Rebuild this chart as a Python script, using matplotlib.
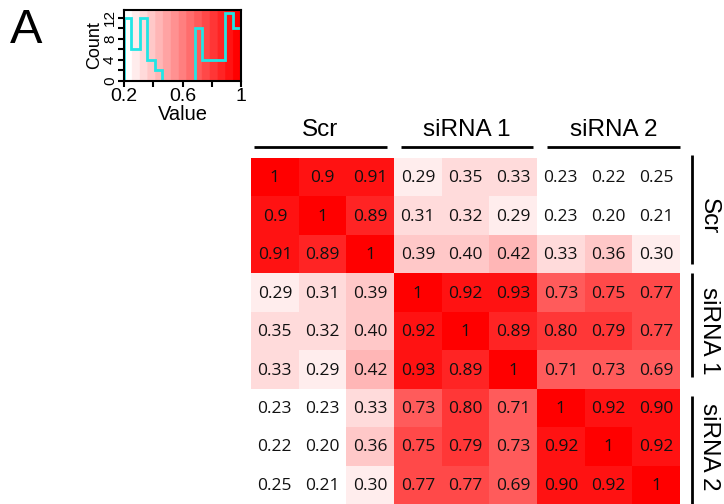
import numpy as np
import matplotlib
matplotlib.use("Agg")
import matplotlib.pyplot as plt
from matplotlib.colors import LinearSegmentedColormap, BoundaryNorm

# correlation matrix, as printed in the cells
cell_labels = [
    ["1", "0.9", "0.91", "0.29", "0.35", "0.33", "0.23", "0.22", "0.25"],
    ["0.9", "1", "0.89", "0.31", "0.32", "0.29", "0.23", "0.20", "0.21"],
    ["0.91", "0.89", "1", "0.39", "0.40", "0.42", "0.33", "0.36", "0.30"],
    ["0.29", "0.31", "0.39", "1", "0.92", "0.93", "0.73", "0.75", "0.77"],
    ["0.35", "0.32", "0.40", "0.92", "1", "0.89", "0.80", "0.79", "0.77"],
    ["0.33", "0.29", "0.42", "0.93", "0.89", "1", "0.71", "0.73", "0.69"],
    ["0.23", "0.23", "0.33", "0.73", "0.80", "0.71", "1", "0.92", "0.90"],
    ["0.22", "0.20", "0.36", "0.75", "0.79", "0.73", "0.92", "1", "0.92"],
    ["0.25", "0.21", "0.30", "0.77", "0.77", "0.69", "0.90", "0.92", "1"],
]
groups = ["Scr", "siRNA 1", "siRNA 2"]

# colour key histogram
hist_edges = [0.2, 0.246, 0.307, 0.358, 0.410, 0.463, 0.685, 0.735, 0.890, 0.947, 1.0]
hist_counts = [12, 6, 12, 4, 2, 0, 10, 4, 13, 10]

values = np.array([[float(v) for v in row] for row in cell_labels])

cmap = LinearSegmentedColormap.from_list("wr", ["#ffffff", "#ff0000"], N=15)
norm = BoundaryNorm(np.linspace(0.2, 1.0, 16), ncolors=15)

W, H = 724, 504
fig = plt.figure(figsize=(W / 100, H / 100), dpi=100)

def box(x0, y0, x1, y1):
    return [x0 / W, 1 - y1 / H, (x1 - x0) / W, (y1 - y0) / H]

# main heatmap
ax = fig.add_axes(box(251, 158, 680, 504))
n = values.shape[0]
ax.pcolormesh(np.arange(n + 1), np.arange(n + 1), values, cmap=cmap, norm=norm)
ax.set_xlim(0, n)
ax.set_ylim(n, 0)
ax.axis("off")
for i in range(n):
    for j in range(n):
        ax.text(j + 0.5, i + 0.53, cell_labels[i][j], ha="center", va="center",
                fontsize=12.5, family="Open Sans", color="#111111")

lab_font = dict(family="Liberation Sans", fontsize=17.5, color="black")
top_spans = [(0.06, 2.85), (3.15, 5.92), (6.21, 9.0)]
side_spans = [(-0.08, 2.75), (3.0, 5.7), (6.2, 9.2)]
for k, g in enumerate(groups):
    x0, x1 = top_spans[k]
    ax.plot([x0, x1], [-0.29, -0.29], color="black", lw=2, clip_on=False,
            solid_capstyle="butt")
    ax.text((x0 + x1) / 2, -0.72, g, ha="center", va="center", **lab_font)
    y0, y1 = side_spans[k]
    ax.plot([9.25, 9.25], [y0, y1], color="black", lw=2, clip_on=False,
            solid_capstyle="butt")
    ax.text(9.61, 3 * k + 1.5, g, ha="center", va="center", rotation=270,
            clip_on=False, **lab_font)

# colour key
kax = fig.add_axes(box(124, 10, 241, 81))
kax.imshow(np.linspace(0.2, 1.0, 400)[None, :], cmap=cmap, norm=norm,
           aspect="auto", extent=[0.2, 1.0, 0, 13.5])
kax.stairs(hist_counts, hist_edges, color="#22e5e5", lw=2)
kax.set_xlim(0.2, 1.0)
kax.set_ylim(0, 13.5)
kax.set_xticks([0.2, 0.4, 0.6, 0.8, 1.0])
kax.set_xticklabels(["0.2", "", "0.6", "", "1"], family="Liberation Sans", fontsize=14)
kax.set_yticks([0, 2, 4, 6, 8, 10, 12])
kax.set_yticklabels(["0", "", "4", "", "8", "", "12"], family="Liberation Sans",
                    fontsize=11, rotation=90, va="center")
kax.tick_params(length=4, width=1.5, pad=1)
kax.set_xlabel("Value", family="Liberation Sans", fontsize=14.5, labelpad=0)
kax.set_ylabel("Count", family="Liberation Sans", fontsize=13, labelpad=0)
for s in kax.spines.values():
    s.set_linewidth(1.5)

fig.text(10 / W, 1 - 43 / H, "A", family="Liberation Sans", fontsize=35,
         va="baseline", ha="left")

fig.savefig("out.png", dpi=100)
